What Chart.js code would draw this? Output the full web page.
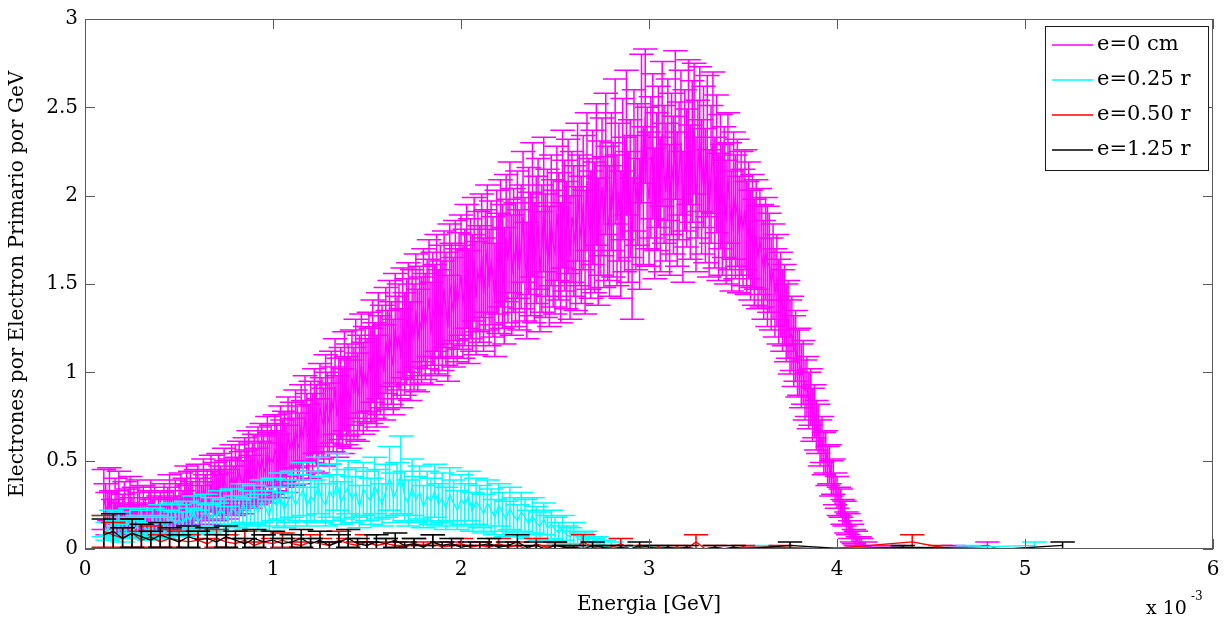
<!DOCTYPE html>
<html>
<head>
<meta charset="utf-8">
<script src="https://cdn.jsdelivr.net/npm/chart.js@4/dist/chart.umd.min.js"></script>
<style>
  body { margin: 0; background: #fff; }
  canvas { display: block; }
</style>
</head>
<body>
<canvas id="espectro" width="1231" height="621"></canvas>
<script>
// Energia en unidades de 1e-3 GeV (el eje muestra "x 10^-3")

// e = 0 cm
const energiaMag = [
  0.10,0.11,0.12,0.13,0.14,0.15,0.16,0.17,0.18,0.19,
  0.20,0.21,0.22,0.23,0.24,0.25,0.26,0.27,0.28,0.29,
  0.30,0.31,0.32,0.33,0.34,0.35,0.36,0.37,0.38,0.39,
  0.40,0.41,0.42,0.43,0.44,0.45,0.46,0.47,0.48,0.49,
  0.50,0.51,0.52,0.53,0.54,0.55,0.56,0.57,0.58,0.59,
  0.60,0.61,0.62,0.63,0.64,0.65,0.66,0.67,0.68,0.69,
  0.70,0.71,0.72,0.73,0.74,0.75,0.76,0.77,0.78,0.79,
  0.80,0.81,0.82,0.83,0.84,0.85,0.86,0.87,0.88,0.89,
  0.90,0.91,0.92,0.93,0.94,0.95,0.96,0.97,0.98,0.99,
  1.00,1.01,1.02,1.03,1.04,1.05,1.06,1.07,1.08,1.09,
  1.10,1.11,1.12,1.13,1.14,1.15,1.16,1.17,1.18,1.19,
  1.20,1.21,1.22,1.23,1.24,1.25,1.26,1.27,1.28,1.29,
  1.30,1.31,1.32,1.33,1.34,1.35,1.36,1.37,1.38,1.39,
  1.40,1.41,1.42,1.43,1.44,1.45,1.46,1.47,1.48,1.49,
  1.50,1.51,1.52,1.53,1.54,1.55,1.56,1.57,1.58,1.59,
  1.60,1.61,1.62,1.63,1.64,1.65,1.66,1.67,1.68,1.69,
  1.70,1.71,1.72,1.73,1.74,1.75,1.76,1.77,1.78,1.79,
  1.80,1.81,1.82,1.83,1.84,1.85,1.86,1.87,1.88,1.89,
  1.90,1.91,1.92,1.93,1.94,1.95,1.96,1.97,1.98,1.99,
  2.00,2.01,2.02,2.03,2.04,2.05,2.06,2.07,2.08,2.09,
  2.10,2.11,2.12,2.13,2.14,2.15,2.16,2.17,2.18,2.19,
  2.20,2.21,2.22,2.23,2.24,2.25,2.26,2.27,2.28,2.29,
  2.30,2.31,2.32,2.33,2.34,2.35,2.36,2.37,2.38,2.39,
  2.40,2.41,2.42,2.43,2.44,2.45,2.46,2.47,2.48,2.49,
  2.50,2.51,2.52,2.53,2.54,2.55,2.56,2.57,2.58,2.59,
  2.60,2.61,2.62,2.63,2.64,2.65,2.66,2.67,2.68,2.69,
  2.70,2.71,2.72,2.73,2.74,2.75,2.76,2.77,2.78,2.79,
  2.80,2.81,2.82,2.83,2.84,2.85,2.86,2.87,2.88,2.89,
  2.90,2.91,2.92,2.93,2.94,2.95,2.96,2.97,2.98,2.99,
  3.00,3.01,3.02,3.03,3.04,3.05,3.06,3.07,3.08,3.09,
  3.10,3.11,3.12,3.13,3.14,3.15,3.16,3.17,3.18,3.19,
  3.20,3.21,3.22,3.23,3.24,3.25,3.26,3.27,3.28,3.29,
  3.30,3.31,3.32,3.33,3.34,3.35,3.36,3.37,3.38,3.39,
  3.40,3.41,3.42,3.43,3.44,3.45,3.46,3.47,3.48,3.49,
  3.50,3.51,3.52,3.53,3.54,3.55,3.56,3.57,3.58,3.59,
  3.60,3.61,3.62,3.63,3.64,3.65,3.66,3.67,3.68,3.69,
  3.70,3.71,3.72,3.73,3.74,3.75,3.76,3.77,3.78,3.79,
  3.80,3.81,3.82,3.83,3.84,3.85,3.86,3.87,3.88,3.89,
  3.90,3.91,3.92,3.93,3.94,3.95,3.96,3.97,3.98,3.99,
  4.00,4.01,4.02,4.03,4.04,4.05,4.06,4.07,4.08,4.09,
  4.10,4.11,4.12,4.13,4.14,4.15,4.16,4.17,4.18,
  4.30,4.55,4.62,4.80,4.86
];
const valoresMag = [
  0.28,0.24,0.20,0.31,0.22,0.18,0.26,0.21,0.29,0.17,
  0.20,0.25,0.15,0.22,0.27,0.19,0.23,0.16,0.26,0.21,
  0.17,0.24,0.19,0.14,0.22,0.26,0.18,0.23,0.15,0.20,
  0.21,0.16,0.25,0.19,0.23,0.28,0.18,0.22,0.26,0.20,
  0.25,0.29,0.22,0.27,0.32,0.24,0.30,0.26,0.21,0.31,
  0.33,0.27,0.24,0.35,0.29,0.31,0.26,0.37,0.30,0.34,
  0.29,0.38,0.33,0.30,0.40,0.35,0.31,0.36,0.42,0.33,
  0.42,0.37,0.44,0.39,0.35,0.45,0.40,0.48,0.38,0.43,
  0.47,0.41,0.50,0.44,0.52,0.46,0.43,0.55,0.48,0.51,
  0.49,0.56,0.52,0.47,0.60,0.54,0.58,0.51,0.64,0.57,
  0.62,0.55,0.68,0.60,0.57,0.70,0.63,0.74,0.66,0.61,
  0.72,0.66,0.78,0.70,0.64,0.80,0.74,0.69,0.84,0.76,
  0.71,0.86,0.79,0.92,0.75,0.83,0.88,0.78,0.95,0.84,
  0.90,0.82,0.97,0.88,1.02,0.86,0.94,1.05,0.91,0.99,
  0.93,1.06,0.98,1.12,1.01,0.95,1.15,1.04,1.09,1.00,
  1.18,1.07,1.22,1.11,1.03,1.25,1.14,1.20,1.08,1.28,
  1.16,1.23,1.31,1.12,1.27,1.20,1.35,1.18,1.29,1.24,
  1.38,1.26,1.33,1.42,1.22,1.36,1.30,1.45,1.28,1.40,
  1.32,1.47,1.36,1.25,1.50,1.41,1.34,1.52,1.38,1.46,
  1.55,1.40,1.48,1.60,1.37,1.53,1.45,1.64,1.42,1.57,
  1.50,1.66,1.44,1.58,1.70,1.48,1.62,1.54,1.41,1.68,
  1.56,1.73,1.60,1.49,1.76,1.63,1.82,1.55,1.69,1.61,
  1.78,1.58,1.71,1.88,1.64,1.52,1.80,1.67,1.92,1.62,
  1.75,1.84,1.57,1.70,1.95,1.66,1.79,1.60,1.86,1.73,
  1.68,1.90,1.77,1.62,1.98,1.83,1.72,1.94,1.65,1.88,
  1.80,1.70,2.02,1.86,1.75,1.96,1.68,2.08,1.84,1.78,
  1.99,1.82,2.12,1.74,1.93,2.05,1.85,2.18,1.90,1.80,
  2.08,1.92,2.25,1.86,2.02,1.78,2.15,1.95,2.30,1.88,
  2.04,1.70,2.20,1.96,2.12,1.84,2.38,2.00,2.45,2.10,
  1.98,2.16,2.28,1.90,2.08,2.22,1.95,2.35,2.12,2.02,
  2.26,1.92,2.18,2.06,2.40,1.98,2.14,2.30,1.88,2.20,
  2.10,2.36,2.02,2.25,2.38,1.95,2.15,2.32,2.05,2.22,
  2.00,2.28,1.90,2.12,2.30,1.96,2.18,1.88,2.08,1.92,
  2.02,1.85,2.10,1.94,1.80,2.00,1.88,1.96,1.78,1.90,
  1.82,1.92,1.76,1.86,1.72,1.80,1.68,1.78,1.65,1.74,
  1.66,1.58,1.70,1.60,1.62,1.50,1.57,1.45,1.52,1.40,
  1.44,1.35,1.38,1.28,1.30,1.20,1.22,1.12,1.15,1.05,
  1.06,0.98,1.00,0.90,0.92,0.84,0.86,0.76,0.78,0.70,
  0.68,0.60,0.62,0.54,0.55,0.47,0.48,0.40,0.41,0.34,
  0.32,0.27,0.26,0.21,0.20,0.15,0.14,0.11,0.09,0.07,
  0.06,0.04,0.04,0.03,0.02,0.02,0.01,0.01,0.01,
  0.01,0.00,0.01,0.02,0.00
];
const erroresMag = [
  0.17,0.13,0.12,0.15,0.11,0.10,0.14,0.12,0.15,0.09,
  0.11,0.13,0.09,0.12,0.14,0.10,0.12,0.09,0.13,0.11,
  0.09,0.12,0.10,0.08,0.11,0.13,0.10,0.12,0.09,0.10,
  0.11,0.09,0.12,0.10,0.12,0.14,0.10,0.11,0.13,0.10,
  0.12,0.14,0.11,0.13,0.15,0.12,0.14,0.12,0.10,0.14,
  0.15,0.13,0.12,0.16,0.13,0.14,0.12,0.16,0.14,0.15,
  0.13,0.16,0.14,0.13,0.17,0.15,0.14,0.15,0.17,0.14,
  0.17,0.15,0.17,0.16,0.15,0.18,0.16,0.19,0.15,0.17,
  0.18,0.16,0.19,0.17,0.19,0.18,0.17,0.20,0.18,0.19,
  0.18,0.20,0.19,0.18,0.21,0.19,0.20,0.19,0.22,0.20,
  0.21,0.19,0.22,0.21,0.20,0.23,0.21,0.24,0.22,0.21,
  0.23,0.22,0.24,0.23,0.21,0.25,0.23,0.22,0.26,0.24,
  0.23,0.26,0.24,0.27,0.23,0.25,0.26,0.24,0.28,0.25,
  0.26,0.25,0.27,0.26,0.28,0.25,0.27,0.28,0.26,0.27,
  0.26,0.28,0.27,0.29,0.27,0.26,0.30,0.28,0.29,0.27,
  0.30,0.28,0.30,0.29,0.27,0.31,0.29,0.30,0.28,0.31,
  0.29,0.30,0.31,0.28,0.31,0.30,0.32,0.29,0.31,0.30,
  0.32,0.30,0.31,0.33,0.29,0.32,0.31,0.33,0.30,0.32,
  0.31,0.33,0.32,0.30,0.34,0.32,0.31,0.34,0.32,0.33,
  0.34,0.32,0.33,0.35,0.32,0.34,0.33,0.35,0.32,0.34,
  0.33,0.35,0.32,0.34,0.36,0.33,0.35,0.34,0.32,0.35,
  0.34,0.36,0.35,0.33,0.36,0.35,0.37,0.34,0.35,0.35,
  0.36,0.34,0.35,0.37,0.35,0.33,0.36,0.35,0.38,0.34,
  0.36,0.37,0.34,0.36,0.38,0.35,0.36,0.34,0.37,0.36,
  0.35,0.38,0.36,0.34,0.39,0.37,0.36,0.38,0.35,0.37,
  0.37,0.35,0.39,0.37,0.36,0.38,0.35,0.39,0.37,0.36,
  0.38,0.37,0.40,0.36,0.38,0.39,0.37,0.40,0.38,0.37,
  0.39,0.38,0.41,0.37,0.39,0.36,0.40,0.38,0.41,0.37,
  0.39,0.40,0.40,0.38,0.40,0.37,0.42,0.39,0.38,0.40,
  0.38,0.40,0.41,0.37,0.39,0.40,0.38,0.41,0.39,0.39,
  0.40,0.37,0.40,0.39,0.42,0.38,0.39,0.41,0.37,0.40,
  0.39,0.41,0.38,0.40,0.37,0.38,0.39,0.41,0.38,0.40,
  0.38,0.40,0.36,0.39,0.40,0.37,0.39,0.36,0.38,0.37,
  0.37,0.35,0.37,0.36,0.34,0.36,0.35,0.36,0.33,0.35,
  0.33,0.34,0.32,0.33,0.31,0.32,0.30,0.31,0.29,0.30,
  0.29,0.28,0.29,0.34,0.28,0.26,0.27,0.25,0.26,0.24,
  0.24,0.23,0.23,0.22,0.22,0.21,0.21,0.20,0.20,0.19,
  0.19,0.18,0.18,0.17,0.17,0.16,0.16,0.15,0.15,0.14,
  0.14,0.13,0.13,0.12,0.12,0.11,0.11,0.10,0.10,0.09,
  0.09,0.08,0.08,0.07,0.07,0.06,0.06,0.05,0.05,0.04,
  0.04,0.03,0.03,0.03,0.02,0.02,0.01,0.01,0.01,
  0.01,0.00,0.01,0.02,0.00
];

// e = 0.25 r
const energiaCian = [
  0.10,0.12,0.14,0.16,0.18,0.20,0.22,0.24,0.26,0.28,
  0.30,0.32,0.34,0.36,0.38,0.40,0.42,0.44,0.46,0.48,
  0.50,0.52,0.54,0.56,0.58,0.60,0.62,0.64,0.66,0.68,
  0.70,0.72,0.74,0.76,0.78,0.80,0.82,0.84,0.86,0.88,
  0.90,0.92,0.94,0.96,0.98,1.00,1.02,1.04,1.06,1.08,
  1.10,1.12,1.14,1.16,1.18,1.20,1.22,1.24,1.26,1.28,
  1.30,1.32,1.34,1.36,1.38,1.40,1.42,1.44,1.46,1.48,
  1.50,1.52,1.54,1.56,1.58,1.60,1.62,1.64,1.66,1.68,
  1.70,1.72,1.74,1.76,1.78,1.80,1.82,1.84,1.86,1.88,
  1.90,1.92,1.94,1.96,1.98,2.00,2.02,2.04,2.06,2.08,
  2.10,2.12,2.14,2.16,2.18,2.20,2.22,2.24,2.26,2.28,
  2.30,2.32,2.34,2.36,2.38,2.40,2.42,2.44,2.46,2.48,
  2.50,2.52,2.54,2.56,2.58,2.60,2.62,2.64,2.66,2.68,
  2.70,2.72,2.74,2.76,2.78,2.80,
  3.05,3.30,3.60,3.72,4.70,5.05
];
const valoresCian = [
  0.13,0.10,0.15,0.11,0.14,0.09,0.12,0.16,0.11,0.13,
  0.15,0.12,0.10,0.16,0.13,0.17,0.12,0.15,0.18,0.14,
  0.17,0.14,0.19,0.16,0.21,0.15,0.18,0.22,0.17,0.20,
  0.18,0.23,0.19,0.16,0.24,0.21,0.19,0.26,0.20,0.23,
  0.25,0.21,0.27,0.23,0.19,0.28,0.24,0.30,0.22,0.27,
  0.31,0.25,0.29,0.34,0.24,0.30,0.27,0.36,0.28,0.25,
  0.33,0.29,0.38,0.26,0.31,0.35,0.28,0.32,0.24,0.34,
  0.30,0.27,0.36,0.31,0.25,0.33,0.40,0.29,0.34,0.42,
  0.30,0.26,0.35,0.28,0.32,0.24,0.30,0.27,0.33,0.25,
  0.29,0.23,0.31,0.26,0.22,0.28,0.25,0.30,0.21,0.27,
  0.24,0.20,0.26,0.22,0.18,0.25,0.21,0.17,0.23,0.19,
  0.16,0.21,0.18,0.14,0.19,0.15,0.13,0.17,0.12,0.14,
  0.11,0.09,0.12,0.08,0.07,0.09,0.06,0.05,0.06,0.04,
  0.03,0.04,0.02,0.03,0.01,0.02,
  0.01,0.00,0.01,0.00,0.01,0.02
];
const erroresCian = [
  0.06,0.05,0.07,0.05,0.07,0.05,0.06,0.07,0.05,0.06,
  0.07,0.06,0.05,0.07,0.06,0.08,0.06,0.07,0.08,0.07,
  0.08,0.07,0.08,0.07,0.09,0.07,0.08,0.09,0.08,0.09,
  0.08,0.10,0.09,0.08,0.10,0.09,0.09,0.11,0.09,0.10,
  0.11,0.10,0.12,0.10,0.09,0.12,0.11,0.13,0.10,0.12,
  0.13,0.12,0.13,0.15,0.11,0.14,0.12,0.16,0.13,0.12,
  0.15,0.13,0.16,0.12,0.14,0.15,0.13,0.14,0.12,0.15,
  0.14,0.13,0.16,0.14,0.12,0.15,0.18,0.14,0.15,0.22,
  0.14,0.13,0.16,0.13,0.15,0.12,0.14,0.13,0.15,0.12,
  0.14,0.12,0.15,0.13,0.11,0.14,0.12,0.14,0.11,0.13,
  0.12,0.11,0.13,0.12,0.10,0.12,0.11,0.10,0.12,0.10,
  0.09,0.11,0.10,0.08,0.10,0.09,0.08,0.09,0.07,0.08,
  0.07,0.06,0.07,0.05,0.05,0.06,0.04,0.04,0.04,0.03,
  0.03,0.03,0.02,0.02,0.01,0.02,
  0.01,0.00,0.01,0.00,0.01,0.02
];

// rejilla comun para e = 0.50 r y e = 1.25 r
const energiaBaja = [
  0.10,0.15,0.20,0.25,0.30,0.35,0.40,0.45,0.50,0.55,
  0.60,0.65,0.70,0.75,0.80,0.85,0.90,0.95,1.00,1.05,
  1.10,1.15,1.20,1.25,1.30,1.35,1.40,1.45,1.50,1.55,
  1.60,1.65,1.70,1.75,1.80,1.85,1.90,1.95,2.00,2.05,
  2.10,2.15,2.20,2.25,2.30,2.35,2.40,2.45,2.50,2.55,
  2.60,2.65,2.70,2.75,2.80,2.85,2.90,2.95,3.00,3.05,
  3.10,3.15,3.20,3.25,3.30,3.35,3.40,3.45,3.50
];

// e = 0.50 r
const colaRojo = [3.70, 3.95, 4.40, 4.55, 4.62];
const valoresRojo = [
  0.10,0.08,0.06,0.09,0.05,0.07,0.04,0.06,0.05,0.04,
  0.05,0.03,0.06,0.04,0.03,0.05,0.02,0.04,0.03,0.05,
  0.03,0.02,0.04,0.03,0.02,0.05,0.03,0.02,0.04,0.02,
  0.03,0.02,0.01,0.03,0.02,0.04,0.01,0.02,0.03,0.01,
  0.02,0.01,0.03,0.01,0.02,0.00,0.03,0.01,0.02,0.01,
  0.00,0.04,0.01,0.00,0.01,0.03,0.00,0.01,0.00,0.01,
  0.00,0.01,0.00,0.04,0.00,0.01,0.00,0.00,0.01,
  0.01,0.00,0.04,0.01,0.00
];
const erroresRojo = [
  0.09,0.07,0.06,0.08,0.05,0.06,0.04,0.05,0.05,0.04,
  0.05,0.03,0.05,0.04,0.03,0.05,0.02,0.04,0.03,0.04,
  0.03,0.02,0.04,0.03,0.02,0.05,0.03,0.02,0.04,0.02,
  0.03,0.02,0.01,0.03,0.02,0.04,0.01,0.02,0.03,0.01,
  0.02,0.01,0.03,0.01,0.02,0.00,0.03,0.01,0.02,0.01,
  0.00,0.04,0.01,0.00,0.01,0.03,0.00,0.01,0.00,0.01,
  0.00,0.01,0.00,0.04,0.00,0.01,0.00,0.00,0.01,
  0.01,0.00,0.04,0.01,0.00
];

// e = 1.25 r
const colaNegro = [3.75, 4.05, 4.35, 4.90, 5.20];
const valoresNegro = [
  0.08,0.10,0.06,0.09,0.07,0.05,0.08,0.06,0.04,0.07,
  0.05,0.06,0.04,0.07,0.05,0.03,0.06,0.04,0.05,0.03,
  0.04,0.06,0.03,0.05,0.02,0.04,0.06,0.03,0.02,0.04,
  0.03,0.05,0.02,0.03,0.01,0.04,0.02,0.03,0.01,0.02,
  0.02,0.03,0.01,0.02,0.04,0.01,0.02,0.00,0.02,0.01,
  0.01,0.00,0.02,0.01,0.00,0.01,0.00,0.02,0.01,0.00,
  0.01,0.00,0.01,0.00,0.00,0.01,0.00,0.01,0.00,
  0.02,0.00,0.01,0.00,0.02
];
const erroresNegro = [
  0.09,0.10,0.06,0.08,0.07,0.05,0.07,0.06,0.04,0.06,
  0.05,0.06,0.04,0.06,0.05,0.03,0.05,0.04,0.05,0.03,
  0.04,0.05,0.03,0.05,0.02,0.04,0.05,0.03,0.02,0.04,
  0.03,0.04,0.02,0.03,0.01,0.04,0.02,0.03,0.01,0.02,
  0.02,0.03,0.01,0.02,0.04,0.01,0.02,0.00,0.02,0.01,
  0.01,0.00,0.02,0.01,0.00,0.01,0.00,0.02,0.01,0.00,
  0.01,0.00,0.01,0.00,0.00,0.01,0.00,0.01,0.00,
  0.02,0.00,0.01,0.00,0.02
];

const etiquetas = ['e=0 cm', 'e=0.25 r', 'e=0.50 r', 'e=1.25 r'];
const colores = ['#ff00ff', '#00ffff', '#ff0000', '#000000'];

const fuente = 'DejaVu Serif';

function serie(i, xs, ys, errs) {
  return {
    label: etiquetas[i],
    data: xs.map((x, k) => ({ x: x, y: ys[k] })),
    errores: errs,
    borderColor: colores[i],
    borderWidth: 1.3,
    pointRadius: 0,
    showLine: true,
    tension: 0,
    order: 4 - i, // negro encima, como en matlab
    medioAncho: 0.065
  };
}

// barras de error estilo matlab (vertical + dos topes)
const barrasError = {
  id: 'barrasError',
  afterDatasetDraw(chart, args) {
    const ds = chart.data.datasets[args.index];
    if (!ds.errores) return;
    const { ctx, chartArea: a } = chart;
    const sx = chart.scales.x, sy = chart.scales.y;
    ctx.save();
    ctx.beginPath();
    ctx.rect(a.left, a.top, a.right - a.left, a.bottom - a.top);
    ctx.clip();
    ctx.strokeStyle = ds.borderColor;
    ctx.lineWidth = 1.5;
    ctx.beginPath();
    ds.data.forEach((p, k) => {
      const e = ds.errores[k];
      const px = sx.getPixelForValue(p.x);
      const x0 = sx.getPixelForValue(p.x - ds.medioAncho);
      const x1 = sx.getPixelForValue(p.x + ds.medioAncho);
      const yA = sy.getPixelForValue(p.y + e);
      const yB = sy.getPixelForValue(p.y - e);
      ctx.moveTo(px, yA); ctx.lineTo(px, yB);
      ctx.moveTo(x0, yA); ctx.lineTo(x1, yA);
      ctx.moveTo(x0, yB); ctx.lineTo(x1, yB);
    });
    ctx.stroke();
    ctx.restore();
  }
};

// caja de ejes con marcas hacia dentro, leyenda y "x 10^-3"
const marco = {
  id: 'marco',
  afterDraw(chart) {
    const { ctx, chartArea: a } = chart;
    const sx = chart.scales.x, sy = chart.scales.y;
    const largo = 10;
    ctx.save();
    ctx.strokeStyle = '#5a5a5a';
    ctx.lineWidth = 1;
    ctx.strokeRect(a.left + 0.5, a.top + 0.5, a.right - a.left - 1, a.bottom - a.top - 1);
    ctx.beginPath();
    sx.ticks.forEach(t => {
      const px = Math.round(sx.getPixelForValue(t.value)) + 0.5;
      ctx.moveTo(px, a.bottom); ctx.lineTo(px, a.bottom - largo);
      ctx.moveTo(px, a.top); ctx.lineTo(px, a.top + largo);
    });
    sy.ticks.forEach(t => {
      const py = Math.round(sy.getPixelForValue(t.value)) + 0.5;
      ctx.moveTo(a.left, py); ctx.lineTo(a.left + largo, py);
      ctx.moveTo(a.right, py); ctx.lineTo(a.right - largo, py);
    });
    ctx.stroke();

    // leyenda
    const lx = 1045, ly = 26, lw = 163, lh = 144;
    ctx.fillStyle = '#fff';
    ctx.fillRect(lx, ly, lw, lh);
    ctx.strokeStyle = '#1a1a1a';
    ctx.strokeRect(lx + 0.5, ly + 0.5, lw, lh);
    ctx.font = '21px "' + fuente + '"';
    ctx.textBaseline = 'middle';
    ctx.textAlign = 'left';
    etiquetas.forEach((txt, i) => {
      const yy = ly + 19 + i * 35;
      ctx.strokeStyle = colores[i];
      ctx.lineWidth = 1.5;
      ctx.beginPath();
      ctx.moveTo(lx + 7, yy);
      ctx.lineTo(lx + 48, yy);
      ctx.stroke();
      ctx.fillStyle = '#000';
      ctx.fillText(txt, lx + 52, yy);
    });

    // factor de escala del eje x
    ctx.fillStyle = '#000';
    ctx.font = '19px "' + fuente + '"';
    ctx.textBaseline = 'alphabetic';
    ctx.fillText('x 10', 1146, 614);
    ctx.font = '12px "' + fuente + '"';
    ctx.fillText('-3', 1191, 600);
    ctx.restore();
  }
};

new Chart(document.getElementById('espectro'), {
  type: 'scatter',
  data: {
    datasets: [
      serie(0, energiaMag, valoresMag, erroresMag),
      serie(1, energiaCian, valoresCian, erroresCian),
      serie(2, energiaBaja.concat(colaRojo), valoresRojo, erroresRojo),
      serie(3, energiaBaja.concat(colaNegro), valoresNegro, erroresNegro)
    ]
  },
  options: {
    responsive: false,
    animation: false,
    layout: { padding: { top: 17, right: 18, left: 0, bottom: 0 } },
    plugins: {
      legend: { display: false },
      tooltip: { enabled: false }
    },
    scales: {
      x: {
        type: 'linear',
        min: 0,
        max: 6,
        ticks: { stepSize: 1, color: '#000', font: { family: fuente, size: 20 }, padding: 9, maxRotation: 0 },
        grid: { display: false, drawTicks: false },
        border: { display: false },
        title: { display: true, text: 'Energia [GeV]', color: '#000', font: { family: fuente, size: 20 }, padding: { top: 0, bottom: 4 } },
        afterFit(s) { s.height = 72; }
      },
      y: {
        min: 0,
        max: 3,
        ticks: { stepSize: 0.5, color: '#000', font: { family: fuente, size: 20 }, padding: 7, callback: v => String(v) },
        grid: { display: false, drawTicks: false },
        border: { display: false },
        title: { display: true, text: 'Electrones por Electron Primario por GeV', color: '#000', font: { family: fuente, size: 20 }, padding: { top: 6, bottom: 0 } },
        afterFit(s) { s.width = 85; }
      }
    }
  },
  plugins: [barrasError, marco]
});
</script>
</body>
</html>
